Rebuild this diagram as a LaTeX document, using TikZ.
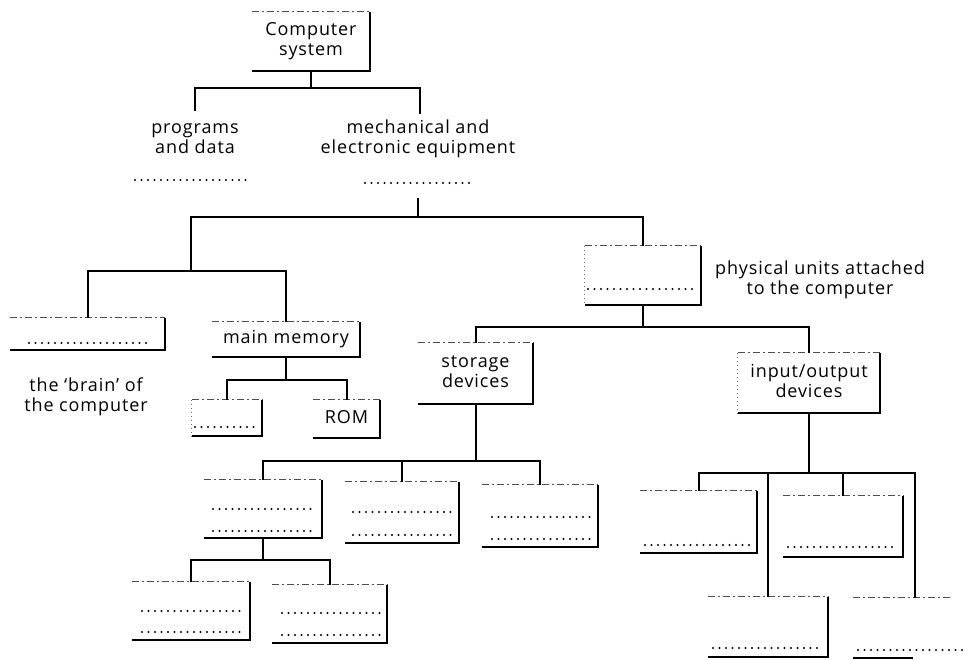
\documentclass[tikz,border=0pt]{standalone}
\usepackage{fontspec}
\setmainfont{Open Sans}[LetterSpace=5]
\newcommand\dbox[6]{%
  \node[lbl, minimum width={#4-#2}, minimum height={#5-#3}] (#1) at ({(#2+#4)/2},{(#3+#5)/2}) {#6};
  \draw[tedge] (#1.north west) -- (#1.north east);
  \draw[redge] (#1.north east) -- (#1.south east) -- (#1.south west);}
\newcommand\dln[3]{\draw[dotln] (#2,#1) -- (#3,#1);}
\begin{document}
\begin{tikzpicture}[x=1pt,y=-1pt,
  conn/.style={line width=2pt, line join=miter},
  redge/.style={line width=1.8pt, line join=miter},
  tedge/.style={line width=1pt, black!70, dash pattern=on 7pt off 3pt on 2pt off 3pt},
  ledge/.style={line width=1pt, black!60, dash pattern=on 1pt off 3pt},
  dotln/.style={line width=2.3pt, line cap=round, dash pattern=on 0pt off 6.5pt},
  lbl/.style={font=\fontsize{18}{20}\selectfont, align=center, inner sep=0pt}
]
\useasboundingbox (0,0) rectangle (971,659);

% boxes
\dbox{sys}{252}{12}{370}{71}{\strut Computer\\\strut system}
\dbox{cpu}{10}{318}{165}{350}{}
\dbox{mem}{212}{322}{360}{357}{\strut main memory}
\dbox{ram}{192}{400}{262}{436}{}
\dbox{rom}{313}{400}{380}{438}{\strut ROM}
\dbox{phys}{585}{246}{701}{305}{}
\dbox{stor}{418}{343}{533}{404}{\strut storage\\\strut devices}
\dbox{io}{738}{353}{880}{413}{\strut input/output\\\strut devices}
\dbox{sa}{204}{480}{322}{538}{}
\dbox{sb}{345}{482}{459}{543}{}
\dbox{sc}{482}{485}{598}{547}{}
\dbox{ga}{132}{582}{250}{640}{}
\dbox{gb}{272}{585}{387}{643}{}
\dbox{ioa}{640}{491}{757}{553}{}
\dbox{iob}{783}{496}{903}{557}{}
\dbox{ioc}{708}{597}{828}{657}{}
\node[lbl, minimum width=124, minimum height=61] (iod) at (915,628.5) {};
\draw[tedge] (iod.north west) -- ++(97,0);
\draw[redge] (iod.south west) ++(0,-1) -- ++(60,0);

\draw[ledge] (phys.north west) -- (phys.south west);
\draw[ledge] (io.north west) -- (io.south west);
\draw[ledge] (ram.north west) -- (ram.south west);

% dotted answer lines
\dln{343}{29}{147}
\dln{427}{195}{257}
\dln{289}{588}{693}
\dln{509}{213}{315}
\dln{531}{213}{315}
\dln{512}{353}{453}
\dln{535}{353}{453}
\dln{517}{492}{591}
\dln{539}{492}{591}
\dln{611}{142}{243}
\dln{632}{142}{243}
\dln{613}{282}{380}
\dln{635}{282}{380}
\dln{545}{645}{752}
\dln{547}{788}{897}
\dln{648}{713}{822}
\dln{650}{858}{968}

% free labels
\node[lbl] (prog) at (195,139) {\strut programs\\\strut and data};
\node[lbl] (mech) at (418,139) {\strut mechanical and\\\strut electronic equipment};
\dln{180}{135}{250}
\dln{183}{365}{475}
\node[lbl] (brain) at (86,397) {\strut the `brain' of\\\strut the computer};
\node[lbl] (physl) at (820,280) {\strut physical units attached\\\strut to the computer};

% connectors
\coordinate (j1) at (311,88);
\coordinate (progT) at (195,111);
\coordinate (mechT) at (420,114);
\draw[conn] (sys.south) -- (j1);
\draw[conn] (progT) |- (j1) -| (mechT);

\coordinate (mechS) at (418,198);
\coordinate (j2) at (418,217);
\coordinate (j3) at (191,271);
\draw[conn] (mechS) -- (j2);
\draw[conn] (j3) |- (j2) -| (phys.north);
\draw[conn] (cpu.north) |- (j3) -| (mem.north);

\path (mem.south) ++(0,23) coordinate (j4);
\draw[conn] (mem.south) -- (j4);
\draw[conn] (ram.north) |- (j4) -| (rom.north);

\path (phys.south) ++(0,22) coordinate (j5);
\draw[conn] (phys.south) -- (j5);
\draw[conn] (stor.north) |- (j5) -| (io.north);

\path (stor.south) ++(0,57) coordinate (j6);
\draw[conn] (stor.south) -- (j6);
\draw[conn] (sa.north) |- (j6) -| (sc.north);
\draw[conn] (sb.north) -- (sb.north |- j6);

\path (sa.south) ++(0,22) coordinate (j7);
\draw[conn] (sa.south) -- (j7);
\draw[conn] (ga.north) |- (j7) -| (gb.north);

\path (io.south) ++(0,60) coordinate (j8);
\draw[conn] (io.south) -- (j8);
\draw[conn] (ioa.north) |- (j8) -| (iod.north);
\draw[conn] (iob.north) -- (iob.north |- j8);
\draw[conn] (ioc.north) -- (ioc.north |- j8);
\end{tikzpicture}
\end{document}
